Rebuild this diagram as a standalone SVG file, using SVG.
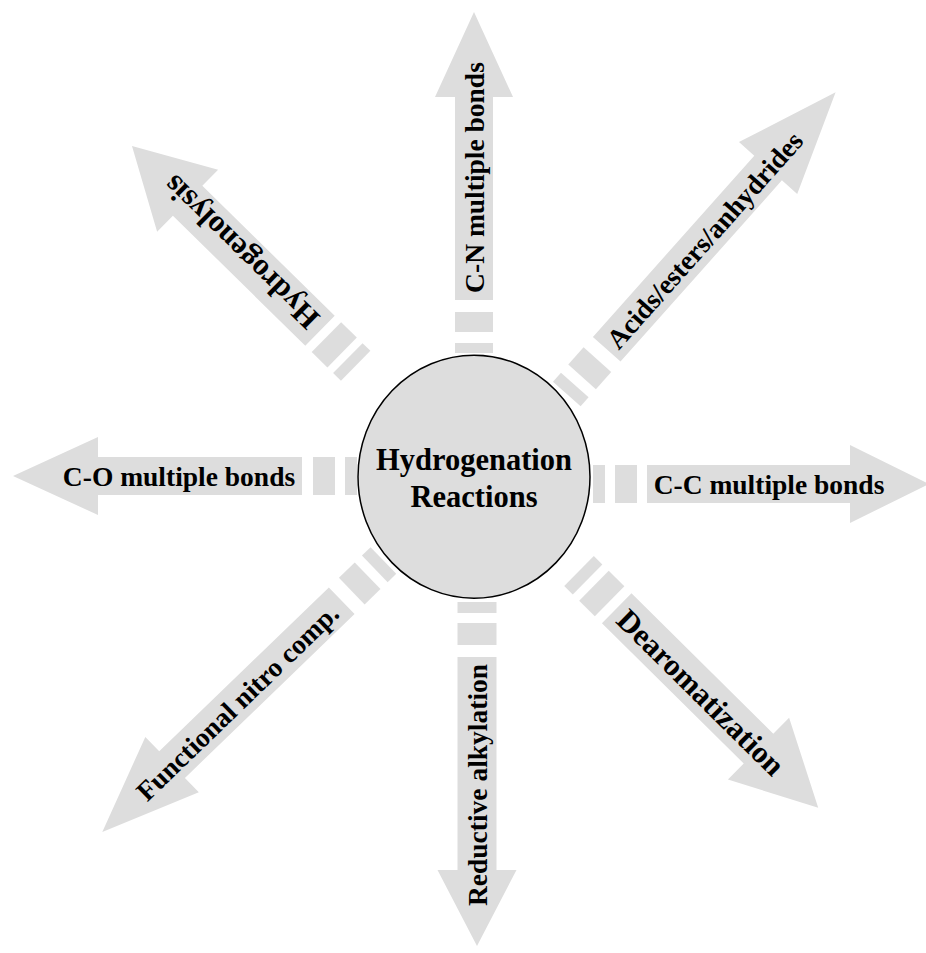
<svg xmlns="http://www.w3.org/2000/svg" width="926" height="953" viewBox="0 0 926 953">
<style>
.arr{fill:#dddddd}
.lbl{font-family:"Liberation Serif","Times New Roman",serif;font-weight:bold;fill:#000;text-anchor:middle}
.s27{font-size:27.5px}
.s31{font-size:31px}
</style>
<rect width="926" height="953" fill="#fff"/>
<g id="connectors" class="arr">
  <g transform="translate(647 484)"><rect x="-54" y="-19" width="12" height="38"/><rect x="-32" y="-19" width="22" height="38"/></g>
  <g transform="translate(302 476) rotate(180)"><rect x="-55" y="-19" width="12" height="38"/><rect x="-33" y="-19" width="22" height="38"/></g>
  <g transform="translate(474 300) rotate(-90)"><rect x="-53" y="-19" width="10" height="38"/><rect x="-32" y="-19" width="20" height="38"/></g>
  <g transform="translate(477 657) rotate(90)"><rect x="-55" y="-19.5" width="11" height="39"/><rect x="-34" y="-19.5" width="22" height="39"/></g>
  <g transform="translate(606.7 349.2) rotate(-48.3)"><rect x="-60" y="-18.5" width="12" height="37"/><rect x="-37" y="-18.5" width="23" height="37"/></g>
  <g transform="translate(320 330.8) rotate(-135.5)"><rect x="-50" y="-21" width="11" height="42"/><rect x="-31" y="-21" width="22" height="42"/></g>
  <g transform="translate(616.7 608.3) rotate(44.7)"><rect x="-53" y="-21" width="12" height="42"/><rect x="-32" y="-21" width="22" height="42"/></g>
  <g transform="translate(341.7 600.8) rotate(136)"><rect x="-58" y="-18.5" width="12" height="37"/><rect x="-36" y="-18.5" width="22" height="37"/></g>
</g>
<g id="arrow-cc" transform="translate(647 484)">
  <path class="arr" d="M0,-19H203V-39L282,0L203,39V19H0Z"/>
  <text class="lbl s27" x="122" y="10">C-C multiple bonds</text>
</g>
<g id="arrow-co" transform="translate(302 476) rotate(180)">
  <path class="arr" d="M0,-19H204V-39L289,0L204,39V19H0Z"/>
  <text class="lbl s27" transform="translate(123 0) rotate(180)" x="0" y="10">C-O multiple bonds</text>
</g>
<g id="arrow-cn" transform="translate(474 300) rotate(-90)">
  <path class="arr" d="M0,-19H203V-39L288,0L203,39V19H0Z"/>
  <text class="lbl s27" x="122.5" y="10">C-N multiple bonds</text>
</g>
<g id="arrow-ra" transform="translate(477 657) rotate(90)">
  <path class="arr" d="M0,-19.5H213V-39.5L289,0L213,39.5V19.5H0Z"/>
  <text class="lbl s27" transform="translate(128 0) rotate(180)" x="0" y="10">Reductive alkylation</text>
</g>
<g id="arrow-acids" transform="translate(606.7 349.2) rotate(-48.3)">
  <path class="arr" d="M0,-18.5H242.6V-39L344.1,0L242.6,39V18.5H0Z"/>
  <text class="lbl s27" x="146.6" y="10">Acids/esters/anhydrides</text>
</g>
<g id="arrow-hydrogenolysis" transform="translate(320 330.8) rotate(-135.5)">
  <path class="arr" d="M0,-21H185.6V-43.5L263.6,0L185.6,43.5V21H0Z"/>
  <text class="lbl s31" x="111.4" y="11">Hydrogenolysis</text>
</g>
<g id="arrow-dearom" transform="translate(616.7 608.3) rotate(44.7)">
  <path class="arr" d="M0,-21H199.5V-43.5L283.5,0L199.5,43.5V21H0Z"/>
  <text class="lbl s31" x="119" y="11">Dearomatization</text>
</g>
<g id="arrow-nitro" transform="translate(341.7 600.8) rotate(136)">
  <path class="arr" d="M0,-18.5H235.8V-38.5L332.8,0L235.8,38.5V18.5H0Z"/>
  <text class="lbl s27" transform="translate(145.5 0) rotate(180)" x="0" y="10">Functional nitro comp.</text>
</g>
<g id="center">
  <ellipse cx="474" cy="476.7" rx="116" ry="121.5" fill="#dddddd" stroke="#000" stroke-width="1.5"/>
  <text class="lbl" style="font-size:30.5px" x="474" y="470">Hydrogenation</text>
  <text class="lbl" style="font-size:30.5px" x="474" y="507">Reactions</text>
</g>
</svg>
